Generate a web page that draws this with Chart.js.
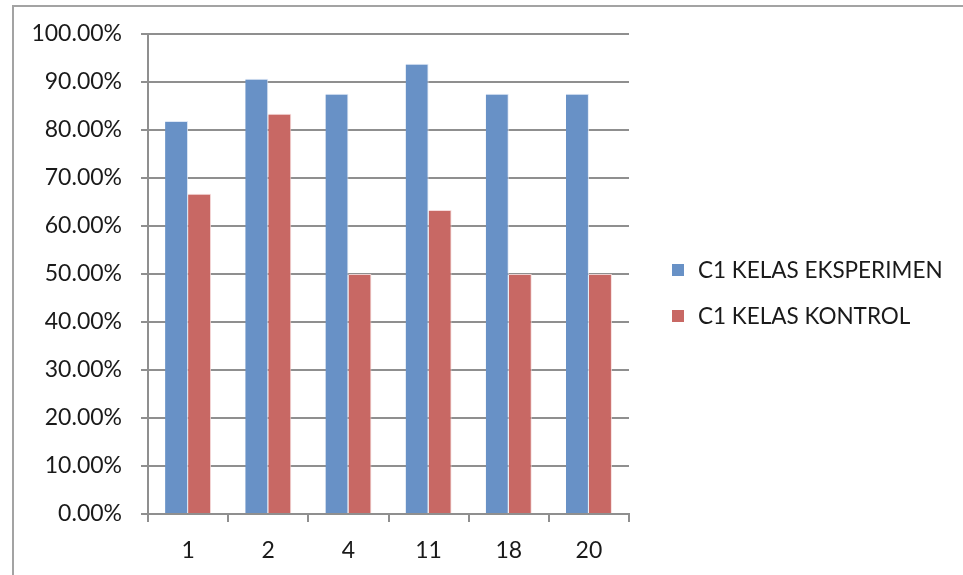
<!DOCTYPE html>
<html>
<head>
<meta charset="utf-8">
<script src="https://cdn.jsdelivr.net/npm/chart.js@4"></script>
<style>
  body { margin: 0; background: #fff; }
  #frame {
    position: absolute; left: 12px; top: 5px;
    width: 949px; height: 568px;
    border-top: 2px solid #a3a3a3; border-left: 2px solid #a3a3a3;
  }
  #wrap { position: absolute; left: 0; top: -6px; width: 949px; height: 574px; }
</style>
</head>
<body>
<div id="frame"><div id="wrap"><canvas id="myChart"></canvas></div></div>
<script>
const categories = ["1", "2", "4", "11", "18", "20"];
const eksperimen = [81.82, 90.63, 87.5, 93.75, 87.5, 87.5];
const kontrol = [66.67, 83.33, 50, 63.33, 50, 50];
const seriesNames = ["C1 KELAS EKSPERIMEN", "C1 KELAS KONTROL"];

const gridColor = '#8f8f8f';
Chart.defaults.font.family = 'Lato';
Chart.defaults.font.size = 23;
Chart.defaults.color = '#1a1a1a';

// legend drawn by hand so it sits where the original one does
const sideLegend = {
  id: 'sideLegend',
  afterDraw(chart) {
    const ctx = chart.ctx;
    ctx.save();
    ctx.font = '22.5px Lato';
    ctx.textBaseline = 'middle';
    chart.data.datasets.forEach((ds, i) => {
      const y = 269 + i * 46;
      ctx.fillStyle = ds.backgroundColor;
      ctx.fillRect(658, y - 6, 12, 12);
      ctx.fillStyle = '#1a1a1a';
      ctx.fillText(ds.label, 684, y + 1);
    });
    ctx.restore();
  }
};

new Chart("myChart", {
  type: "bar",
  data: {
    labels: categories,
    datasets: [
      {
        label: seriesNames[0],
        data: eksperimen,
        backgroundColor: 'rgb(104, 145, 198)',
        borderColor: 'rgba(220, 230, 245, 0.9)',
        borderWidth: { left: 0, right: 1, top: 1, bottom: 0 },
        categoryPercentage: 0.574,
        barPercentage: 1
      },
      {
        label: seriesNames[1],
        data: kontrol,
        backgroundColor: 'rgb(200, 104, 100)',
        borderColor: 'rgba(245, 215, 215, 0.9)',
        borderWidth: { left: 0, right: 1, top: 1, bottom: 0 },
        categoryPercentage: 0.574,
        barPercentage: 1
      }
    ]
  },
  options: {
    responsive: true,
    maintainAspectRatio: false,
    animation: false,
    layout: { padding: { top: 0, right: 334, left: 0, bottom: 0 } },
    scales: {
      x: {
        grid: {
          offset: true,
          drawOnChartArea: false,
          color: gridColor,
          lineWidth: 2,
          tickLength: 8
        },
        border: { color: gridColor, width: 2 },
        ticks: { padding: 15 },
        afterFit: (s) => { s.height = 61; }
      },
      y: {
        min: 0,
        max: 100,
        ticks: {
          stepSize: 10,
          padding: 19,
          callback: (v) => v.toFixed(2) + '%'
        },
        grid: { color: gridColor, lineWidth: 2, tickLength: 7 },
        border: { color: gridColor, width: 2 },
        afterFit: (s) => { s.width = 134; }
      }
    },
    plugins: {
      legend: { display: false },
      tooltip: { enabled: false }
    }
  },
  plugins: [sideLegend]
});
</script>
</body>
</html>
